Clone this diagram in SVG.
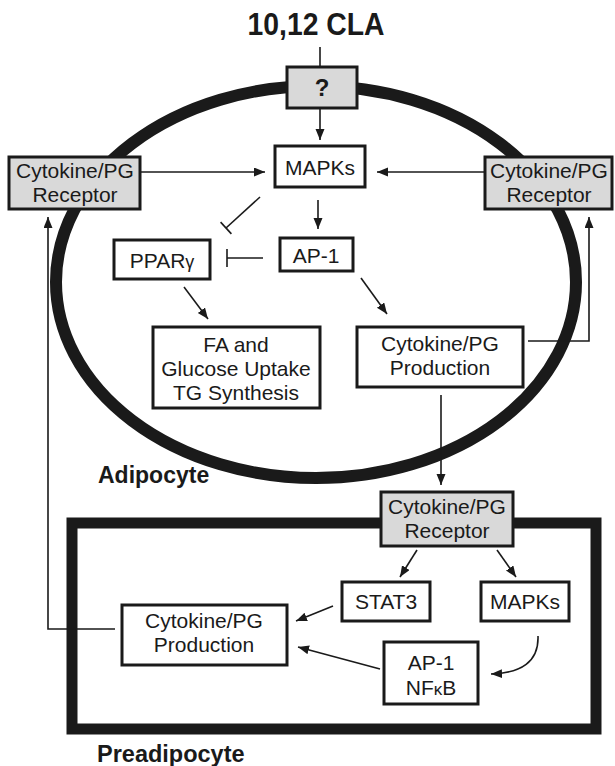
<svg xmlns="http://www.w3.org/2000/svg" width="615" height="766" viewBox="0 0 615 766">
<style>
.box{fill:#fff;stroke:#1a1a1a;stroke-width:3}
.gbox{fill:#d9d9d9;stroke:#1a1a1a;stroke-width:3}
.t{font-family:"Liberation Sans",Arial,sans-serif;font-size:21px;fill:#1a1a1a;text-anchor:middle}
.b{font-family:"Liberation Sans",Arial,sans-serif;font-weight:bold;fill:#1a1a1a}
.c{fill:none;stroke:#1a1a1a;stroke-width:1.6}
.a{marker-end:url(#ah)}
</style>
<defs>
<marker id="ah" markerUnits="userSpaceOnUse" markerWidth="12" markerHeight="10" refX="11" refY="4.5" orient="auto">
<path d="M0,0 L11,4.5 L0,9 z" fill="#1a1a1a"/>
</marker>
</defs>
<rect width="615" height="766" fill="#fff"/>
<g id="adipocyte-membrane">
<ellipse cx="316" cy="282" rx="260" ry="196" fill="none" stroke="#1a1a1a" stroke-width="12"/>
</g>
<g id="preadipocyte-membrane">
<rect x="72" y="523" width="524" height="206" fill="none" stroke="#1a1a1a" stroke-width="11"/>
</g>
<text class="b" x="316" y="35" font-size="31" text-anchor="middle" textLength="137" lengthAdjust="spacingAndGlyphs">10,12 CLA</text>
<text class="b" x="98" y="483" font-size="23">Adipocyte</text>
<text class="b" x="97" y="762" font-size="23.5">Preadipocyte</text>
<g id="connectors">
<line class="c" x1="320" y1="47" x2="320" y2="67"/>
<line class="c a" x1="320" y1="108" x2="320" y2="140"/>
<line class="c a" x1="140" y1="172" x2="265" y2="172"/>
<line class="c a" x1="485" y1="172" x2="377" y2="172"/>
<line class="c a" x1="318" y1="200" x2="318" y2="229"/>
<line class="c" x1="260" y1="197" x2="226" y2="228"/>
<line class="c" x1="220.6" y1="222.1" x2="231.4" y2="233.9"/>
<line class="c" x1="263" y1="258" x2="227" y2="258"/>
<line class="c" x1="227" y1="249" x2="227" y2="267"/>
<line class="c a" x1="184" y1="287" x2="208" y2="319"/>
<line class="c a" x1="361" y1="278" x2="387" y2="314"/>
<polyline class="c a" points="528,341 589,341 589,217"/>
<line class="c a" x1="441" y1="395" x2="441" y2="485"/>
<line class="c a" x1="417" y1="550" x2="400" y2="577"/>
<line class="c a" x1="497" y1="550" x2="516" y2="577"/>
<line class="c a" x1="333" y1="606" x2="296" y2="621"/>
<line class="c a" x1="380" y1="669" x2="298" y2="647"/>
<path class="c a" d="M538,636 C539,662 521,673 491,674"/>
<polyline class="c a" points="115,629 48,629 48,217"/>
</g>
<g id="unknown-receptor">
<rect class="gbox" x="287" y="67" width="70" height="41"/>
<text class="b" x="322" y="96" font-size="24" text-anchor="middle">?</text>
</g>
<g id="mapks-adipocyte">
<rect class="box" x="275" y="146" width="90" height="41"/>
<text class="t" x="320" y="175">MAPKs</text>
</g>
<g id="receptor-left">
<rect class="gbox" x="9" y="157" width="131" height="52"/>
<text class="t" x="75" y="178">Cytokine/PG</text>
<text class="t" x="75" y="202">Receptor</text>
</g>
<g id="receptor-right">
<rect class="gbox" x="485" y="157" width="127" height="52"/>
<text class="t" x="549" y="178">Cytokine/PG</text>
<text class="t" x="549" y="202">Receptor</text>
</g>
<g id="ppar">
<rect class="box" x="114" y="240" width="96" height="39"/>
<text class="t" x="162" y="268">PPAR<tspan font-size="18">γ</tspan></text>
</g>
<g id="ap1-adipocyte">
<rect class="box" x="280" y="238" width="73" height="33"/>
<text class="t" x="316" y="263">AP-1</text>
</g>
<g id="fa-glucose">
<rect class="box" x="153" y="327" width="167" height="81"/>
<text class="t" x="236" y="352">FA and</text>
<text class="t" x="236" y="376">Glucose Uptake</text>
<text class="t" x="236" y="400">TG Synthesis</text>
</g>
<g id="cytokine-production-adipocyte">
<rect class="box" x="357" y="327" width="166" height="60"/>
<text class="t" x="440" y="351">Cytokine/PG</text>
<text class="t" x="440" y="375">Production</text>
</g>
<g id="receptor-preadipocyte">
<rect class="gbox" x="381" y="492" width="132" height="54"/>
<text class="t" x="447" y="514">Cytokine/PG</text>
<text class="t" x="447" y="538">Receptor</text>
</g>
<g id="stat3">
<rect class="box" x="342" y="582" width="88" height="39"/>
<text class="t" x="386" y="609">STAT3</text>
</g>
<g id="mapks-preadipocyte">
<rect class="box" x="481" y="582" width="88" height="39"/>
<text class="t" x="525" y="609">MAPKs</text>
</g>
<g id="cytokine-production-preadipocyte">
<rect class="box" x="122" y="605" width="165" height="60"/>
<text class="t" x="204" y="628">Cytokine/PG</text>
<text class="t" x="204" y="652">Production</text>
</g>
<g id="ap1-nfkb">
<rect class="box" x="384" y="642" width="94" height="62"/>
<text class="t" x="431" y="670">AP-1</text>
<text class="t" x="431" y="695">NF<tspan font-size="17">κ</tspan>B</text>
</g>
</svg>
